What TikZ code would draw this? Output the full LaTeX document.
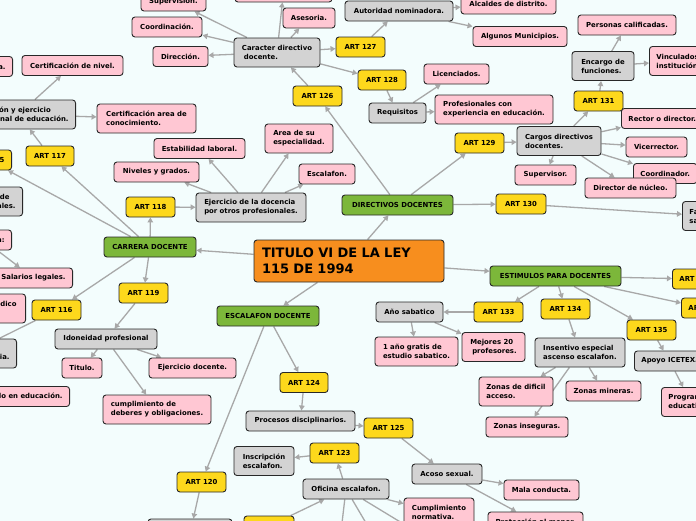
\documentclass[tikz,border=0pt]{standalone}
\usepackage{fontspec}
\setmainfont{DejaVu Sans}
\usetikzlibrary{arrows.meta,backgrounds}
\definecolor{bgc}{RGB}{243,253,253}
\definecolor{pinkc}{RGB}{255,199,211}
\definecolor{grayc}{RGB}{211,211,211}
\definecolor{yelc}{RGB}{253,216,28}
\definecolor{greenc}{RGB}{124,183,58}
\definecolor{orangec}{RGB}{247,142,30}
\definecolor{edgec}{RGB}{168,168,168}
\definecolor{borderc}{RGB}{40,40,40}
\begin{document}
\begin{tikzpicture}[x=1pt,y=-1pt,
 box/.style={draw=borderc, line width=0.9pt, rounded corners=3pt, font=\bfseries\fontsize{6.9}{9}\selectfont, align=left, inner xsep=7pt, inner ysep=2pt, minimum height=20pt},
 pk/.style={box, fill=pinkc},
 gy/.style={box, fill=grayc},
 ye/.style={box, fill=yelc},
 gr/.style={box, fill=greenc},
 two/.style={minimum height=29pt},
 wd/.style={minimum width=#1 pt},
 conn/.style={draw=edgec, line width=1.3pt, -{Triangle[width=5.5pt,length=5pt]}},
 plain/.style={draw=edgec, line width=1.3pt},
]
\useasboundingbox (0,0) rectangle (696,520);
\clip (0,0) rectangle (696,520);
% top area
\node[pk,wd=65] (sup) at (173.5,1) {Supervisión.};
\node[pk,wd=70] (coord) at (167,27) {Coordinación.};
\node[pk,wd=55] (dir) at (180.5,56.5) {Dirección.};
\node[pk,wd=97] (topb) at (283.5,-8) {};
\node[pk,wd=52] (ases) at (309,18) {Asesoria.};
\node[gy,two,wd=86] (caract) at (277,52.5) {Caracter directivo\\\hspace{2pt}docente.};
\node[ye,wd=49] (a127) at (360.5,47) {ART 127};
\node[gy,wd=108] (autor) at (399,11) {Autoridad nominadora.};
\node[pk,wd=95] (alcal) at (508.5,4) {Alcaldes de distrito.};
\node[pk,wd=94] (munic) at (520,36.5) {Algunos Municipios.};
\node[ye,wd=48] (a128) at (382,80) {ART 128};
\node[ye,wd=49] (a126) at (317.5,96) {ART 126};
\node[gy,wd=57] (requis) at (397.5,113) {Requisitos};
\node[pk,wd=65] (licen) at (456.5,74) {Licenciados.};
\node[pk,two,wd=118] (profes) at (494,109.5) {Profesionales con\\experiencia en educación.};
\node[pk,wd=98] (person) at (627,25) {Personas calificadas.};
\node[gy,two,wd=62] (encargo) at (603,66) {Encargo de\\funciones.};
\node[pk,two,anchor=west] (vincul) at (649,61) {Vinculados a\\institución.};
\node[ye,wd=49] (a131) at (598.5,101) {ART 131};
\node[pk,anchor=west] (rector) at (621,118.5) {Rector o director.};
\node[gy,two,wd=84] (cargos) at (559,141) {Cargos directivos\\docentes.};
\node[ye,wd=49] (a129) at (479.5,143) {ART 129};
\node[pk,wd=61] (vicer) at (656.5,147) {Vicerrector.};
\node[pk,anchor=west] (coordr) at (633,173.5) {Coordinador.};
\node[pk,wd=61] (superv) at (545.5,175) {Supervisor.};
\node[pk,wd=91] (nucleo) at (630.5,188) {Director de núcleo.};
\node[ye,wd=50] (a130) at (521,204) {ART 130};
\node[gy,two,anchor=west] (fa) at (682,216) {Faltas y\\sanciones.};
% middle left
\node[pk,two,wd=68] (areasu) at (299,138.5) {Area de su\\especialidad.};
\node[pk,wd=91] (estab) at (199.5,148.5) {Estabilidad laboral.};
\node[pk,wd=85] (nivel) at (156.5,172) {Niveles y grados.};
\node[pk,wd=56] (escal) at (327,174) {Escalafon.};
\node[ye,wd=49] (a118) at (150.5,207) {ART 118};
\node[gy,two,wd=110] (ejerc) at (251,207.5) {Ejercicio de la docencia\\por otros profesionales.};
\node[gr,wd=92] (carrera) at (150,247) {CARRERA DOCENTE};
\node[gr,wd=111] (direct) at (397.5,205) {DIRECTIVOS DOCENTES};
\node[box, fill=orangec, text width=174pt, inner xsep=8pt, minimum height=42pt, font=\bfseries\fontsize{13}{15.5}\selectfont] (titulo) at (349,261) {TITULO VI DE LA LEY\\115 DE 1994};
\node[pk,wd=101] (certn) at (72.5,65.5) {Certificación de nivel.};
\node[pk,anchor=east] (lefta) at (13,66.5) {Idoneidad académica.};
\node[gy,two,anchor=east] (formac) at (76,114.5) {Formación y ejercicio\\profesional de educación.};
\node[pk,two,wd=99] (certa) at (146.5,118.5) {Certificación area de\\conocimiento.};
\node[ye,wd=48] (a117) at (50,156) {ART 117};
\node[ye,anchor=east] (a115) at (12,160) {ART 115};
\node[gy,two,anchor=east,align=right] (deales) at (23,201.5) {Régimen de\rule{6pt}{0pt}\\docentes estatales.};
\node[pk,anchor=east] (colon) at (12,240) {Definición:};
\node[pk,anchor=east] (salar) at (73,278) {Salarios legales.};
\node[ye,wd=49] (a116) at (56.5,310) {ART 116};
\node[pk,two,anchor=east,align=right] (medico) at (26,308.5) {Servicio médico\rule{2pt}{0pt}\\ \mbox{}};
\node[gy,two,anchor=east] (ia) at (17,353.5) {Requisitos\\de experiencia.};
\node[pk,anchor=east] (posgr) at (70,396.5) {Postgrado en educación.};
\node[ye,wd=49] (a119) at (143.5,293) {ART 119};
\node[gy,wd=102] (idon) at (106,339) {Idoneidad profesional};
\node[pk,wd=40] (titu) at (82,368) {Titulo.};
\node[pk,wd=87] (ejdoc) at (192.5,368) {Ejercicio docente.};
\node[pk,two,wd=108] (cumpl) at (157,409.5) {cumplimiento de\\deberes y obligaciones.};
% lower middle
\node[gr,wd=102] (escalaf) at (268,316) {ESCALAFON DOCENTE};
\node[ye,wd=48] (a124) at (304,382.5) {ART 124};
\node[ye,wd=49] (a120) at (201.5,482) {ART 120};
\node[gy,two,wd=84] (botg) at (190,533.5) {};
\node[ye,wd=50] (boty) at (269,526) {};
\node[gy,wd=109] (proc) at (300.5,421) {Procesos disciplinarios.};
\node[ye,wd=49] (a125) at (388.5,428) {ART 125};
\node[gy,wd=70] (acoso) at (447,474) {Acoso sexual.};
\node[pk,wd=75] (mala) at (541.5,490) {Mala conducta.};
\node[pk,wd=95] (protec) at (535.5,522) {Protección al menor.};
\node[ye,wd=49] (a123) at (334.5,453) {ART 123};
\node[gy,two,wd=60] (inscr) at (264,461) {Inscripción\\escalafon.};
\node[gy,wd=86] (ofic) at (346,489) {Oficina escalafon.};
\node[pk,two,wd=70] (cnorm) at (439,512.5) {Cumplimiento\\normativa.};
\coordinate (o1) at (340,540);
\coordinate (o2) at (376,540);
\coordinate (o3) at (430,540);
\coordinate (a116t) at (-20,348);
% right lower
\node[gr,wd=131] (estim) at (555.5,276) {ESTIMULOS PARA DOCENTES};
\node[ye,anchor=west] (ar1) at (672,279) {ART 136};
\node[ye,anchor=west] (ar2) at (681,308) {ART 137};
\node[ye,wd=49] (a133) at (498.5,312) {ART 133};
\node[ye,wd=49] (a134) at (565.5,309) {ART 134};
\node[ye,wd=49] (a135) at (651.5,330) {ART 135};
\node[gy,wd=67] (sabat) at (409.5,312) {Año sabatico};
\node[pk,two,wd=83] (gratis) at (416.5,351.5) {1 año gratis de\\estudio sabatico.};
\node[pk,two,wd=63] (mejor) at (493.5,347) {Mejores 20\\\hspace{2pt}profesores.};
\node[gy,two,wd=90] (insent) at (580,352.5) {Insentivo especial\\ascenso escalafon.};
\node[gy,anchor=west] (icetex) at (634,361) {Apoyo ICETEX.};
\node[pk,two,anchor=west] (progra) at (661,402) {Programas\\educativos.};
\node[pk,two,wd=74] (dific) at (516,391.5) {Zonas de dificil\\acceso.};
\node[pk,wd=75] (miner) at (603.5,391) {Zonas mineras.};
\node[pk,wd=82] (inseg) at (527,427) {Zonas inseguras.};

\begin{scope}[on background layer]
\fill[bgc] (-10,-10) rectangle (706,530);
\draw[conn] (titulo) -- (carrera);
\draw[conn] (titulo) -- (direct);
\draw[conn] (titulo) -- (escalaf);
\draw[conn] (titulo) -- (estim);
\draw[conn] (carrera) -- (a118);
\draw[conn] (carrera) -- (a117);
\draw[conn] (carrera) -- (a115);
\draw[conn] (carrera) -- (a116);
\draw[conn] (carrera) -- (a119);
\draw[conn] (a118) -- (ejerc);
\draw[conn] (ejerc) -- (nivel);
\draw[conn] (ejerc) -- (estab);
\draw[conn] (ejerc) -- (areasu);
\draw[conn] (ejerc) -- (escal);
\draw[conn] (a117) -- (formac);
\draw[conn] (formac) -- (certn);
\draw[conn] (formac) -- (certa);
\draw[conn] (colon) -- (salar);
\draw[plain] (a116) -- (a116t);
\draw[conn] (a119) -- (idon);
\draw[conn] (idon) -- (titu);
\draw[conn] (idon) -- (ejdoc);
\draw[conn] (idon) -- (cumpl);
\draw[conn] (escalaf) -- (a124);
\draw[conn] (escalaf) -- (a120);
\draw[conn] (a120) -- (botg);
\draw[conn] (a124) -- (proc);
\draw[conn] (proc) -- (a125);
\draw[conn] (a125) -- (acoso);
\draw[conn] (acoso) -- (mala);
\draw[conn] (acoso) -- (protec);
\draw[conn] (ofic) -- (a123);
\draw[conn] (a123) -- (inscr);
\draw[conn] (boty) -- (ofic);
\draw[conn] (ofic) -- (cnorm);
\draw[plain] (ofic) -- (o1);
\draw[plain] (ofic) -- (o2);
\draw[plain] (ofic) -- (o3);
\draw[conn] (estim) -- (ar1);
\draw[conn] (estim) -- (ar2);
\draw[conn] (estim) -- (a133);
\draw[conn] (estim) -- (a134);
\draw[conn] (estim) -- (a135);
\draw[conn] (a133) -- (sabat);
\draw[conn] (sabat) -- (gratis);
\draw[conn] (sabat) -- (mejor);
\draw[conn] (a134) -- (insent);
\draw[conn] (insent) -- (dific);
\draw[conn] (insent) -- (miner);
\draw[conn] (insent) -- (inseg);
\draw[conn] (a135) -- (icetex);
\draw[conn] (icetex) -- (progra);
\draw[conn] (direct) -- (a126);
\draw[conn] (a126) -- (caract);
\draw[conn] (caract) -- (sup);
\draw[conn] (caract) -- (coord);
\draw[conn] (caract) -- (dir);
\draw[conn] (caract) -- (topb);
\draw[conn] (caract) -- (ases);
\draw[conn] (caract) -- (a127);
\draw[conn] (caract) -- (a128);
\draw[conn] (a127) -- (autor);
\draw[conn] (autor) -- (alcal);
\draw[conn] (autor) -- (munic);
\draw[conn] (a128) -- (requis);
\draw[conn] (requis) -- (licen);
\draw[conn] (requis) -- (profes);
\draw[conn] (direct) -- (a129);
\draw[conn] (a129) -- (cargos);
\draw[conn] (cargos) -- (a131);
\draw[conn] (cargos) -- (rector);
\draw[conn] (cargos) -- (vicer);
\draw[conn] (cargos) -- (coordr);
\draw[conn] (cargos) -- (nucleo);
\draw[conn] (cargos) -- (superv);
\draw[conn] (a131) -- (encargo);
\draw[conn] (encargo) -- (person);
\draw[conn] (encargo) -- (vincul);
\draw[conn] (direct) -- (a130);
\draw[conn] (a130) -- (fa);
\end{scope}
\end{tikzpicture}
\end{document}
